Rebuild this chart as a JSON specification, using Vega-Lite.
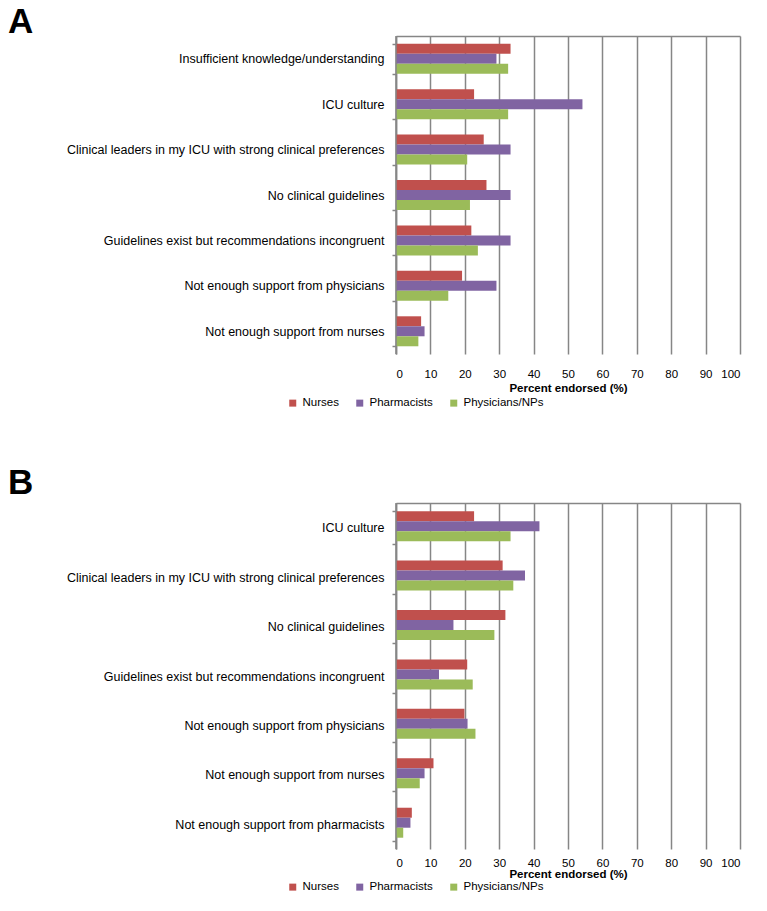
{
  "$schema": "https://vega.github.io/schema/vega-lite/v6.json",
  "background": "white",
  "padding": {"left": 8, "top": 5, "right": 5, "bottom": 5},
  "spacing": 57,
  "resolve": {"scale": {"color": "independent"}, "legend": {"color": "independent"}},
  "datasets": {
    "A": [
      {"barrier": "Insufficient knowledge/understanding", "group": "Nurses", "pct": 33.3},
      {"barrier": "Insufficient knowledge/understanding", "group": "Pharmacists", "pct": 29.2},
      {"barrier": "Insufficient knowledge/understanding", "group": "Physicians/NPs", "pct": 32.6},
      {"barrier": "ICU culture", "group": "Nurses", "pct": 22.7},
      {"barrier": "ICU culture", "group": "Pharmacists", "pct": 54.2},
      {"barrier": "ICU culture", "group": "Physicians/NPs", "pct": 32.6},
      {"barrier": "Clinical leaders in my ICU with strong clinical preferences", "group": "Nurses", "pct": 25.5},
      {"barrier": "Clinical leaders in my ICU with strong clinical preferences", "group": "Pharmacists", "pct": 33.3},
      {"barrier": "Clinical leaders in my ICU with strong clinical preferences", "group": "Physicians/NPs", "pct": 20.7},
      {"barrier": "No clinical guidelines", "group": "Nurses", "pct": 26.3},
      {"barrier": "No clinical guidelines", "group": "Pharmacists", "pct": 33.3},
      {"barrier": "No clinical guidelines", "group": "Physicians/NPs", "pct": 21.5},
      {"barrier": "Guidelines exist but recommendations incongruent", "group": "Nurses", "pct": 21.9},
      {"barrier": "Guidelines exist but recommendations incongruent", "group": "Pharmacists", "pct": 33.3},
      {"barrier": "Guidelines exist but recommendations incongruent", "group": "Physicians/NPs", "pct": 23.8},
      {"barrier": "Not enough support from physicians", "group": "Nurses", "pct": 19.2},
      {"barrier": "Not enough support from physicians", "group": "Pharmacists", "pct": 29.2},
      {"barrier": "Not enough support from physicians", "group": "Physicians/NPs", "pct": 15.2},
      {"barrier": "Not enough support from nurses", "group": "Nurses", "pct": 7.3},
      {"barrier": "Not enough support from nurses", "group": "Pharmacists", "pct": 8.3},
      {"barrier": "Not enough support from nurses", "group": "Physicians/NPs", "pct": 6.5}
    ],
    "B": [
      {"barrier": "ICU culture", "group": "Nurses", "pct": 22.7},
      {"barrier": "ICU culture", "group": "Pharmacists", "pct": 41.7},
      {"barrier": "ICU culture", "group": "Physicians/NPs", "pct": 33.3},
      {"barrier": "Clinical leaders in my ICU with strong clinical preferences", "group": "Nurses", "pct": 31.0},
      {"barrier": "Clinical leaders in my ICU with strong clinical preferences", "group": "Pharmacists", "pct": 37.5},
      {"barrier": "Clinical leaders in my ICU with strong clinical preferences", "group": "Physicians/NPs", "pct": 34.1},
      {"barrier": "No clinical guidelines", "group": "Nurses", "pct": 31.8},
      {"barrier": "No clinical guidelines", "group": "Pharmacists", "pct": 16.7},
      {"barrier": "No clinical guidelines", "group": "Physicians/NPs", "pct": 28.6},
      {"barrier": "Guidelines exist but recommendations incongruent", "group": "Nurses", "pct": 20.7},
      {"barrier": "Guidelines exist but recommendations incongruent", "group": "Pharmacists", "pct": 12.5},
      {"barrier": "Guidelines exist but recommendations incongruent", "group": "Physicians/NPs", "pct": 22.3},
      {"barrier": "Not enough support from physicians", "group": "Nurses", "pct": 19.9},
      {"barrier": "Not enough support from physicians", "group": "Pharmacists", "pct": 20.8},
      {"barrier": "Not enough support from physicians", "group": "Physicians/NPs", "pct": 23.1},
      {"barrier": "Not enough support from nurses", "group": "Nurses", "pct": 10.9},
      {"barrier": "Not enough support from nurses", "group": "Pharmacists", "pct": 8.3},
      {"barrier": "Not enough support from nurses", "group": "Physicians/NPs", "pct": 6.9},
      {"barrier": "Not enough support from pharmacists", "group": "Nurses", "pct": 4.6},
      {"barrier": "Not enough support from pharmacists", "group": "Pharmacists", "pct": 4.2},
      {"barrier": "Not enough support from pharmacists", "group": "Physicians/NPs", "pct": 2.1}
    ]
  },
  "vconcat": [
    {
      "title": {"text": "A", "anchor": "start", "frame": "group", "dx": -388, "offset": -10},
      "width": 344,
      "height": 318,
      "data": {"name": "A"},
      "layer": [
        {
          "mark": {"type": "bar"},
          "encoding": {
            "y": {
              "field": "barrier", "type": "nominal",
              "sort": ["Insufficient knowledge/understanding", "ICU culture", "Clinical leaders in my ICU with strong clinical preferences", "No clinical guidelines", "Guidelines exist but recommendations incongruent", "Not enough support from physicians", "Not enough support from nurses"],
              "scale": {"paddingInner": 0.34, "paddingOuter": 0.17},
              "axis": {"title": null}
            },
            "yOffset": {"field": "group", "type": "nominal", "sort": ["Nurses", "Pharmacists", "Physicians/NPs"], "scale": {"paddingInner": 0, "paddingOuter": 0}},
            "x": {
              "field": "pct", "type": "quantitative",
              "scale": {"domain": [0, 100], "nice": false},
              "axis": {"values": [0, 10, 20, 30, 40, 50, 60, 70, 80, 90, 100], "title": "Percent endorsed (%)"}
            },
            "color": {
              "field": "group", "type": "nominal",
              "scale": {"domain": ["Nurses", "Pharmacists", "Physicians/NPs"], "range": ["#C0504D", "#8064A2", "#9BBB59"]},
              "legend": {"orient": "none", "legendX": -109, "legendY": 361}
            }
          }
        },
        {
          "data": {"values": [{"edge": 0}]},
          "mark": {"type": "rule", "color": "#868686", "strokeWidth": 1.5},
          "encoding": {
            "x": {"field": "edge", "type": "quantitative", "axis": {"orient": "top", "domain": true, "labels": false, "ticks": false, "grid": false, "title": null}}
          }
        }
      ],
      "resolve": {"axis": {"x": "independent"}}
    },
    {
      "title": {"text": "B", "anchor": "start", "frame": "group", "dx": -388, "offset": -4},
      "width": 344,
      "height": 346,
      "data": {"name": "B"},
      "layer": [
        {
          "mark": {"type": "bar"},
          "encoding": {
            "y": {
              "field": "barrier", "type": "nominal",
              "sort": ["ICU culture", "Clinical leaders in my ICU with strong clinical preferences", "No clinical guidelines", "Guidelines exist but recommendations incongruent", "Not enough support from physicians", "Not enough support from nurses", "Not enough support from pharmacists"],
              "scale": {"paddingInner": 0.33, "paddingOuter": 0.165},
              "axis": {"title": null}
            },
            "yOffset": {"field": "group", "type": "nominal", "sort": ["Nurses", "Pharmacists", "Physicians/NPs"], "scale": {"paddingInner": 0, "paddingOuter": 0}},
            "x": {
              "field": "pct", "type": "quantitative",
              "scale": {"domain": [0, 100], "nice": false},
              "axis": {"values": [0, 10, 20, 30, 40, 50, 60, 70, 80, 90, 100], "title": "Percent endorsed (%)", "labelPadding": 8, "titlePadding": 0}
            },
            "color": {
              "field": "group", "type": "nominal",
              "scale": {"domain": ["Nurses", "Pharmacists", "Physicians/NPs"], "range": ["#C0504D", "#8064A2", "#9BBB59"]},
              "legend": {"orient": "none", "legendX": -109, "legendY": 378}
            }
          }
        },
        {
          "data": {"values": [{"edge": 0}]},
          "mark": {"type": "rule", "color": "#868686", "strokeWidth": 1.5},
          "encoding": {
            "x": {"field": "edge", "type": "quantitative", "axis": {"orient": "top", "domain": true, "labels": false, "ticks": false, "grid": false, "title": null}}
          }
        }
      ],
      "resolve": {"axis": {"x": "independent"}}
    }
  ],
  "config": {
    "font": "Liberation Sans",
    "view": {"stroke": null},
    "title": {"font": "Liberation Sans", "fontSize": 35, "fontWeight": "bold", "color": "#000000"},
    "axisY": {
      "labelFont": "Liberation Sans", "labelFontSize": 12.5, "labelColor": "#000000", "labelLimit": 400,
      "domainColor": "#868686", "domainWidth": 1.5, "tickColor": "#868686", "tickWidth": 1.5, "tickSize": 4,
      "tickBand": "extent", "labelPadding": 8, "grid": false
    },
    "axisX": {
      "labelFont": "Liberation Sans", "labelFontSize": 11.5, "labelColor": "#000000",
      "domainColor": "#868686", "domainWidth": 1.5,
      "grid": true, "gridColor": "#868686", "gridWidth": 1.5,
      "ticks": false, "tickSize": 0, "labelPadding": 14, "domain": false,
      "titleFont": "Liberation Sans", "titleFontSize": 11.5, "titleFontWeight": "bold", "titleColor": "#000000", "titlePadding": 3
    },
    "legend": {
      "direction": "horizontal", "title": null, "symbolType": "square", "symbolSize": 49, "symbolStrokeWidth": 0,
      "labelFont": "Liberation Sans", "labelFontSize": 11.5, "labelColor": "#000000", "columnPadding": 15, "labelOffset": 4
    }
  }
}
